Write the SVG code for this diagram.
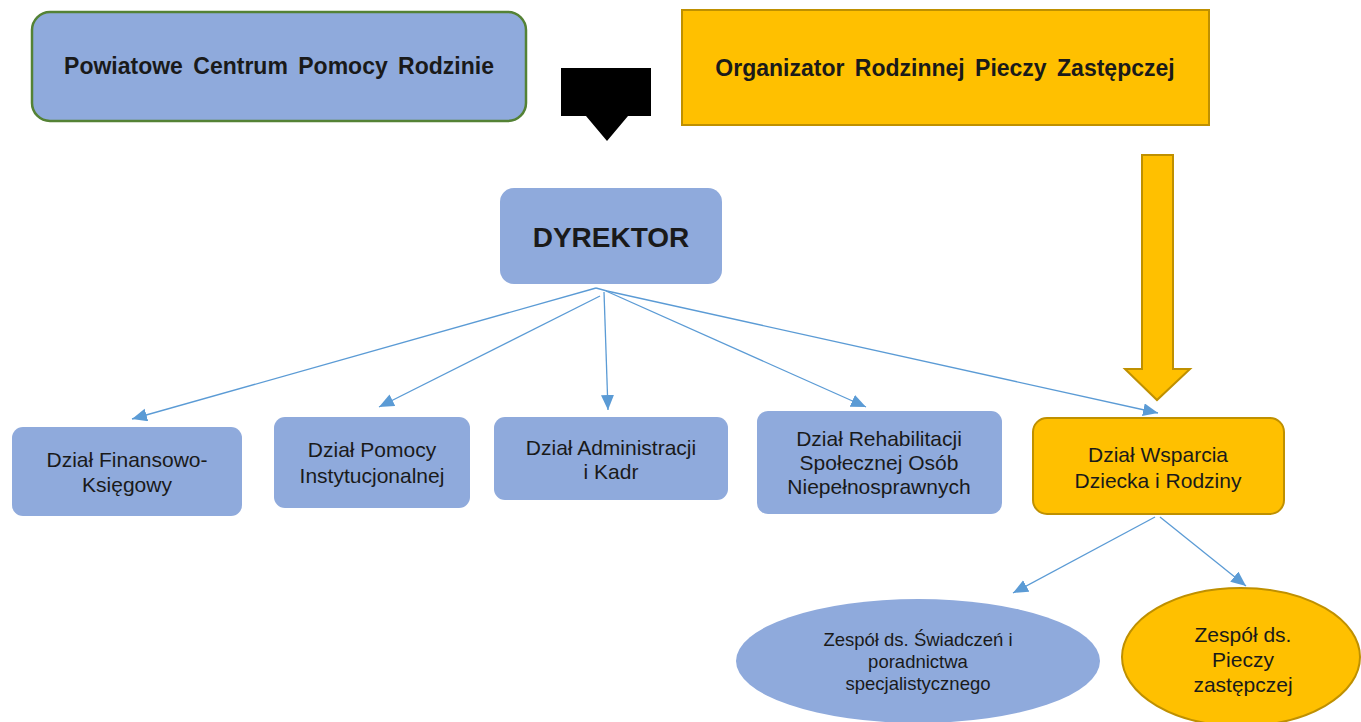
<svg xmlns="http://www.w3.org/2000/svg" width="1361" height="722" viewBox="0 0 1361 722">
<style>
.blue{fill:#8FAADC}
.yel{fill:#FFC000;stroke:#BF9000;stroke-width:2}
.hdr{font-family:"Liberation Sans",Arial,sans-serif;font-weight:bold;fill:#1a1a1a;text-anchor:middle}
.t{font-family:"Liberation Sans",Arial,sans-serif;fill:#1a1a1a;text-anchor:middle;font-size:21px}
.te{font-family:"Liberation Sans",Arial,sans-serif;fill:#1a1a1a;text-anchor:middle;font-size:18.5px}
.con{stroke:#5B9BD5;stroke-width:1.3;fill:none}
</style>
<defs>
<marker id="ah" markerUnits="userSpaceOnUse" markerWidth="16" markerHeight="14" refX="15" refY="6.5" orient="auto">
<path d="M0,0 L15,6.5 L0,13 Z" fill="#5B9BD5"/>
</marker>
</defs>
<rect width="1361" height="722" fill="#ffffff"/>

<g id="pcpr">
<rect x="32" y="12" width="494" height="109" rx="18" class="blue" stroke="#548235" stroke-width="2.5"/>
<text x="279" y="74" class="hdr" font-size="23" word-spacing="4">Powiatowe Centrum Pomocy Rodzinie</text>
</g>

<g id="black-arrow">
<path d="M561,68 H651 V116 H628 L607,141 L586,116 H561 Z" fill="#000000"/>
</g>

<g id="orpz">
<rect x="682" y="10" width="527" height="115" class="yel"/>
<text x="945" y="76" class="hdr" font-size="23" word-spacing="4">Organizator Rodzinnej Pieczy Zastępczej</text>
</g>

<g id="yellow-arrow">
<path d="M1142,155 H1173 V369 H1190 L1157,400 L1125,369 H1142 Z" class="yel"/>
</g>

<g id="dyrektor">
<rect x="500" y="188" width="222" height="96" rx="14" class="blue"/>
<text x="611" y="247" class="hdr" font-size="28">DYREKTOR</text>
</g>

<g id="dzial-fk">
<rect x="12" y="427" width="230" height="89" rx="11" class="blue"/>
<text class="t"><tspan x="127" y="467">Dział Finansowo-</tspan><tspan x="127" y="492">Księgowy</tspan></text>
</g>

<g id="dzial-pi">
<rect x="274" y="417" width="196" height="91" rx="11" class="blue"/>
<text class="t"><tspan x="372" y="457">Dział Pomocy</tspan><tspan x="372" y="483">Instytucjonalnej</tspan></text>
</g>

<g id="dzial-ak">
<rect x="494" y="417" width="234" height="83" rx="11" class="blue"/>
<text class="t"><tspan x="611" y="455">Dział Administracji</tspan><tspan x="611" y="479">i Kadr</tspan></text>
</g>

<g id="dzial-rs">
<rect x="757" y="411" width="245" height="103" rx="11" class="blue"/>
<text class="t"><tspan x="879" y="446">Dział Rehabilitacji</tspan><tspan x="879" y="470">Społecznej Osób</tspan><tspan x="879" y="494">Niepełnosprawnych</tspan></text>
</g>

<g id="dzial-wdr">
<rect x="1033" y="418" width="251" height="96" rx="14" class="yel"/>
<text class="t"><tspan x="1158" y="462">Dział Wsparcia</tspan><tspan x="1158" y="488">Dziecka i Rodziny</tspan></text>
</g>

<g id="zespol-swiadczen">
<ellipse cx="918" cy="661" rx="182" ry="62" class="blue"/>
<text class="te"><tspan x="918" y="646">Zespół ds. Świadczeń i</tspan><tspan x="918" y="668">poradnictwa</tspan><tspan x="918" y="690">specjalistycznego</tspan></text>
</g>

<g id="zespol-pieczy">
<ellipse cx="1241" cy="657" rx="119" ry="69" class="yel"/>
<text class="t"><tspan x="1243" y="642">Zespół ds.</tspan><tspan x="1243" y="667">Pieczy</tspan><tspan x="1243" y="692">zastępczej</tspan></text>
</g>

<g id="connectors">
<line x1="596" y1="288" x2="607" y2="291" class="con"/>
<line x1="596" y1="288" x2="132" y2="419" class="con" marker-end="url(#ah)"/>
<line x1="600" y1="296" x2="379" y2="407" class="con" marker-end="url(#ah)"/>
<line x1="604" y1="292" x2="608" y2="410" class="con" marker-end="url(#ah)"/>
<line x1="606" y1="291" x2="866" y2="407" class="con" marker-end="url(#ah)"/>
<line x1="607" y1="291" x2="1158" y2="413" class="con" marker-end="url(#ah)"/>
<line x1="1155" y1="517" x2="1013" y2="593" class="con" marker-end="url(#ah)"/>
<line x1="1160" y1="517" x2="1246" y2="586" class="con" marker-end="url(#ah)"/>
</g>
</svg>
